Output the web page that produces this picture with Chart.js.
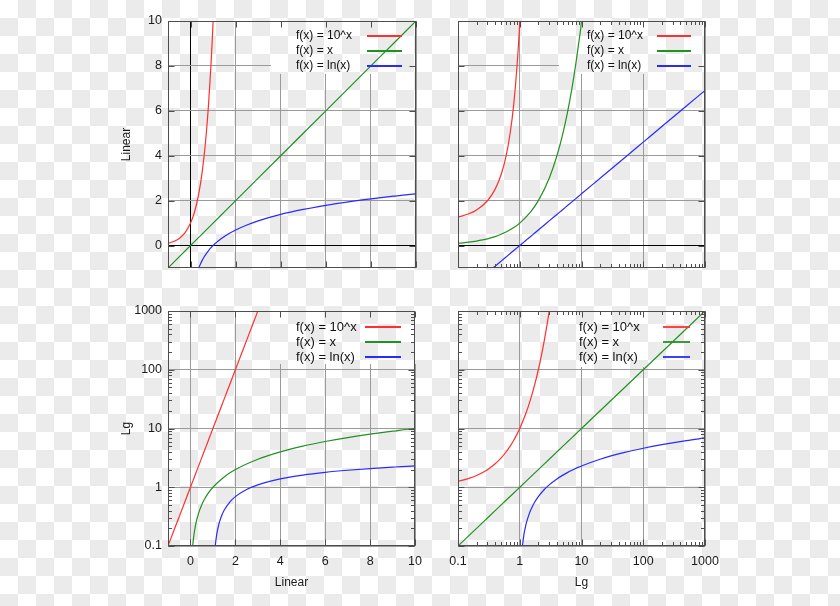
<!DOCTYPE html>
<html>
<head>
<meta charset="utf-8">
<script src="https://cdn.jsdelivr.net/npm/chart.js@4.4.1/dist/chart.umd.min.js"></script>
<style>
  html, body { margin: 0; padding: 0; }
  body {
    width: 840px; height: 606px; position: relative; overflow: hidden;
    background-color: #fff;
    background-image: conic-gradient(#ebebeb 0 25%, transparent 0 50%, #ebebeb 0 75%, transparent 0);
    background-size: 36px 36px;
  }
  canvas { position: absolute; }
</style>
</head>
<body>
<canvas id="tl" width="330" height="290" style="left:100px;top:0px"></canvas>
<canvas id="tr" width="300" height="290" style="left:430px;top:0px"></canvas>
<canvas id="bl" width="330" height="305" style="left:100px;top:295px"></canvas>
<canvas id="br" width="300" height="305" style="left:430px;top:295px"></canvas>
<script>
// tick values
const linTicks = [0, 2, 4, 6, 8, 10];
const lgTicks = [0.1, 1, 10, 100, 1000];

// f(x) = 10^x
const expX = [-1, -0.75, -0.5, -0.25, 0, 0.1, 0.15, 0.2, 0.3, 0.4, 0.5, 0.6, 0.7, 0.8, 0.9, 1, 1.25, 1.5, 1.75, 2, 2.25, 2.5, 2.75, 3];
const expY = [0.1, 0.178, 0.316, 0.562, 1, 1.259, 1.413, 1.585, 1.995, 2.512, 3.162, 3.981, 5.012, 6.31, 7.943, 10, 17.78, 31.62, 56.23, 100, 177.8, 316.2, 562.3, 1000];

// f(x) = x
const idX = [-1, 0.1, 0.12, 0.15, 0.2, 0.25, 0.3, 0.4, 0.5, 0.6, 0.8, 1, 1.5, 2, 3, 4, 5, 6, 7, 8, 9, 10, 30, 100, 300, 1000];
const idY = [-1, 0.1, 0.12, 0.15, 0.2, 0.25, 0.3, 0.4, 0.5, 0.6, 0.8, 1, 1.5, 2, 3, 4, 5, 6, 7, 8, 9, 10, 30, 100, 300, 1000];

// f(x) = ln(x)
const lnX = [0.1, 0.37, 0.4, 0.45, 0.5, 0.6, 0.7, 0.8, 0.9, 1, 1.05, 1.105, 1.12, 1.15, 1.2, 1.25, 1.3, 1.4, 1.5, 1.75, 2, 2.5, 3, 4, 5, 6, 7, 8, 9, 10, 20, 50, 100, 200, 500, 1000];
const lnY = [-2.303, -0.994, -0.916, -0.799, -0.693, -0.511, -0.357, -0.223, -0.105, 0, 0.049, 0.1, 0.113, 0.14, 0.182, 0.223, 0.262, 0.336, 0.405, 0.56, 0.693, 0.916, 1.099, 1.386, 1.609, 1.792, 1.946, 2.079, 2.197, 2.303, 2.996, 3.912, 4.605, 5.298, 6.215, 6.908];

const seriesNames = ['f(x) = 10^x', 'f(x) = x', 'f(x) = ln(x)'];
const seriesColors = ['#ff3030', '#229122', '#2a2aff'];

Chart.defaults.font.family = '"Liberation Sans", Arial, sans-serif';
Chart.defaults.color = '#1a1a1a';

function minorTicks(major) {
  const out = [];
  for (let i = 0; i < major.length - 1; i++) {
    for (let k = 2; k <= 9; k++) out.push(major[i] * k);
  }
  return out;
}

const crisp = v => Math.round(v) + 0.5;

// gnuplot-ish frame, inward tics, key inside the plot
const gnuplotLook = {
  id: 'gnuplotLook',
  beforeDraw(chart, args, opts) {
    const {ctx, width, height} = chart;
    const h = opts.hole;
    ctx.save();
    ctx.beginPath();
    ctx.rect(0, 0, width, height);
    ctx.rect(h[0], h[1], h[2] - h[0], h[3] - h[1]);
    ctx.clip('evenodd');
  },
  beforeDatasetsDraw(chart) {
    chart.ctx.restore();
  },
  afterDatasetsDraw(chart, args, opts) {
    const {ctx, chartArea: a, scales} = chart;
    const L = crisp(a.left), R = crisp(a.right - 1), T = crisp(a.top), B = crisp(a.bottom - 1);
    ctx.save();
    ctx.strokeStyle = '#4d4d4d';
    ctx.lineWidth = 1;
    ctx.beginPath();
    const xt = (vals, len) => vals.forEach(v => {
      const p = crisp(scales.x.getPixelForValue(v));
      ctx.moveTo(p, B); ctx.lineTo(p, B - len);
      ctx.moveTo(p, T); ctx.lineTo(p, T + len);
    });
    const yt = (vals, len) => vals.forEach(v => {
      const p = crisp(scales.y.getPixelForValue(v));
      ctx.moveTo(L, p); ctx.lineTo(L + len, p);
      ctx.moveTo(R, p); ctx.lineTo(R - len, p);
    });
    xt(opts.xMajor, 6);
    yt(opts.yMajor, 6);
    if (opts.xLog) xt(minorTicks(opts.xMajor), 3.5);
    if (opts.yLog) yt(minorTicks(opts.yMajor), 3.5);
    ctx.stroke();
    ctx.strokeRect(L, T, R - L, B - T);

    // key
    const k = opts.key;
    ctx.font = k.size + 'px "Liberation Sans", Arial, sans-serif';
    ctx.textAlign = 'left';
    ctx.textBaseline = 'middle';
    chart.data.datasets.forEach((ds, i) => {
      const y = k.y + i * k.dy;
      ctx.fillStyle = '#111';
      ctx.fillText(ds.label, k.x, y);
      ctx.strokeStyle = ds.borderColor;
      ctx.lineWidth = 1.8;
      ctx.beginPath();
      ctx.moveTo(k.x1, y);
      ctx.lineTo(k.x2, y);
      ctx.stroke();
    });
    ctx.restore();
  }
};

function makePlot(id, o) {
  const datasets = [[expX, expY], [idX, idY], [lnX, lnY]].map(([xs, ys], i) => ({
    label: seriesNames[i],
    data: xs.map((x, j) => ({x: x, y: ys[j]}))
      .filter(p => (!o.xLog || p.x > 0) && (!o.yLog || p.y > 0)),
    borderColor: seriesColors[i],
    borderWidth: 1.2,
    pointRadius: 0,
    cubicInterpolationMode: 'monotone',
    fill: false
  }));

  const gridColor = zero => c => (zero && c.tick && c.tick.value === 0) ? '#000' : '#9a9a9a';
  const tickFont = {size: 12.5};
  const xMajor = o.xLog ? lgTicks : linTicks;
  const yMajor = o.yLog ? lgTicks : linTicks;

  return new Chart(document.getElementById(id), {
    type: 'line',
    data: {datasets},
    plugins: [gnuplotLook],
    options: {
      responsive: false,
      animation: false,
      layout: {padding: {left: 0, top: o.padT, right: o.padR, bottom: 0}},
      scales: {
        x: {
          type: o.xLog ? 'logarithmic' : 'linear',
          min: o.xLog ? 0.1 : -1,
          max: o.xLog ? 1000 : 10,
          afterBuildTicks: s => { s.ticks = xMajor.map(v => ({value: v})); },
          afterFit: s => { s.height = o.xH; },
          grid: {color: gridColor(o.zeroX), drawTicks: false, lineWidth: 1},
          border: {display: false},
          ticks: {display: !!o.xTitle, padding: 8, maxRotation: 0, autoSkip: false,
                  font: tickFont, callback: v => String(v)},
          title: {display: !!o.xTitle, text: o.xTitle, font: {size: 12},
                  padding: {top: 0, bottom: 10}}
        },
        y: {
          type: o.yLog ? 'logarithmic' : 'linear',
          min: o.yLog ? 0.1 : -1,
          max: o.yLog ? 1000 : 10,
          afterBuildTicks: s => { s.ticks = yMajor.map(v => ({value: v})); },
          afterFit: s => { s.width = o.yW; },
          grid: {color: gridColor(o.zeroY), drawTicks: false, lineWidth: 1},
          border: {display: false},
          ticks: {display: !!o.yTitle, padding: 6, autoSkip: false,
                  font: tickFont, callback: v => String(v)},
          title: {display: !!o.yTitle, text: o.yTitle, font: {size: 12},
                  padding: {top: 19, bottom: 0}}
        }
      },
      plugins: {
        legend: {display: false},
        tooltip: {enabled: false},
        gnuplotLook: {hole: o.hole, key: o.key, xMajor, yMajor, xLog: o.xLog, yLog: o.yLog}
      }
    }
  });
}

makePlot('tl', {
  xLog: false, yLog: false, yTitle: 'Linear', zeroX: true, zeroY: true,
  padT: 21, padR: 14, xH: 22, yW: 68,
  hole: [171, 21, 316, 74],
  key: {x: 196, y: 36, dy: 15, x1: 267, x2: 302, size: 12}
});
makePlot('tr', {
  xLog: true, yLog: false, zeroY: true,
  padT: 21, padR: 25, xH: 22, yW: 28,
  hole: [129, 21, 275, 74],
  key: {x: 157, y: 36, dy: 15, x1: 227, x2: 261, size: 12}
});
makePlot('bl', {
  xLog: false, yLog: true, yTitle: 'Lg', xTitle: 'Linear',
  padT: 16, padR: 14, xH: 54, yW: 68,
  hole: [170, 16, 316, 69],
  key: {x: 196, y: 32, dy: 15, x1: 265, x2: 301, size: 13}
});
makePlot('br', {
  xLog: true, yLog: true, xTitle: 'Lg',
  padT: 16, padR: 25, xH: 54, yW: 28,
  hole: [130, 16, 275, 72],
  key: {x: 149, y: 32, dy: 15, x1: 233, x2: 260, size: 13}
});
</script>
</body>
</html>
